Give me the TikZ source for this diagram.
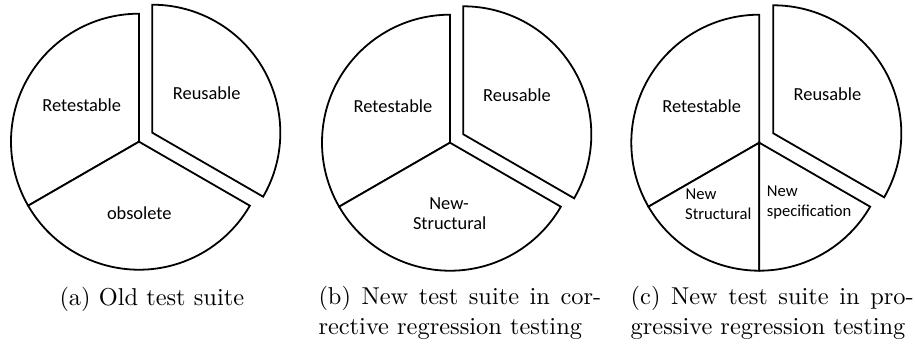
\documentclass[tikz,border=0pt]{standalone}
\usepackage{fontspec}
\newfontfamily\lab{Carlito}
\usepackage{graphicx}
\begin{document}
\begin{tikzpicture}[x=1pt,y=1pt,
  slice/.style={draw=black,line width=1.8pt,line join=miter,fill=white},
  lbl/.style={inner sep=0pt,anchor=base,font=\lab\fontsize{18.4}{22}\selectfont},
  slbl/.style={inner sep=0pt,anchor=base west,font=\lab\fontsize{16.6}{20}\selectfont},
  captxt/.style={inner sep=0pt,anchor=base west}]
\useasboundingbox (0,0) rectangle (915,345);
\def\R{128}
% ---------- pie (a)
\coordinate (ca) at (139,203.3);
\coordinate (ra) at (152.3,212.3);
\draw[slice] (ca) -- ++(90:\R) arc[start angle=90,end angle=210,radius=\R] -- cycle;
\draw[slice] (ca) -- ++(210:\R) arc[start angle=210,end angle=330,radius=\R] -- cycle;
\draw[slice] (ra) -- ++(-30:\R) arc[start angle=-30,end angle=90,radius=\R] -- cycle;
\node[lbl] (a1) at (81.7,233.3) {Retestable};
\node[lbl] (a2) at (206.7,245) {Reusable};
\node[lbl] (a3) at (139.3,125) {obsolete};
% ---------- pie (b)
\coordinate (cb) at (450,202.3);
\coordinate (rb) at (463.3,210.7);
\draw[slice] (cb) -- ++(90:\R) arc[start angle=90,end angle=210,radius=\R] -- cycle;
\draw[slice] (cb) -- ++(210:\R) arc[start angle=210,end angle=330,radius=\R] -- cycle;
\draw[slice] (rb) -- ++(-30:\R) arc[start angle=-30,end angle=90,radius=\R] -- cycle;
\node[lbl] (b1) at (393,232.3) {Retestable};
\node[lbl] (b2) at (517,243.3) {Reusable};
\node[lbl] (b3) at (449,135) {New-};
\node[lbl] (b4) at (449.7,115) {Structural};
% ---------- pie (c)
\coordinate (cc) at (759.3,202.3);
\coordinate (rc) at (773.3,211.7);
\draw[slice] (cc) -- ++(90:\R) arc[start angle=90,end angle=210,radius=\R] -- cycle;
\draw[slice] (cc) -- ++(210:\R) arc[start angle=210,end angle=270,radius=\R] -- cycle;
\draw[slice] (cc) -- ++(270:\R) arc[start angle=270,end angle=330,radius=\R] -- cycle;
\draw[slice] (rc) -- ++(-30:\R) arc[start angle=-30,end angle=90,radius=\R] -- cycle;
\node[lbl] (c1) at (701.7,232.3) {Retestable};
\node[lbl] (c2) at (827.5,244.3) {Reusable};
\node[slbl] (c3) at (685.5,145.7) {New};
\node[slbl] (c4) at (685,125) {Structural};
\node[slbl] (c5) at (766.7,148.3) {New};
\node[slbl] (c6) at (766.7,128.3) {specification};
% ---------- captions
\node[captxt] (ka) at (59.3,39) {\scalebox{2.44}{(a) Old test suite}};
\node[captxt] (kb1) at (318.3,40) {\scalebox{2.44}{\makebox[115.9pt][s]{(b) New test suite in cor-}}};
\node[captxt] (kb2) at (318.3,10.5) {\scalebox{2.44}{rective regression testing}};
\node[captxt] (kc1) at (630.5,40) {\scalebox{2.44}{\makebox[116pt][s]{(c) New test suite in pro-}}};
\node[captxt] (kc2) at (630.5,10.5) {\scalebox{2.44}{gressive regression testing}};
\end{tikzpicture}
\end{document}
